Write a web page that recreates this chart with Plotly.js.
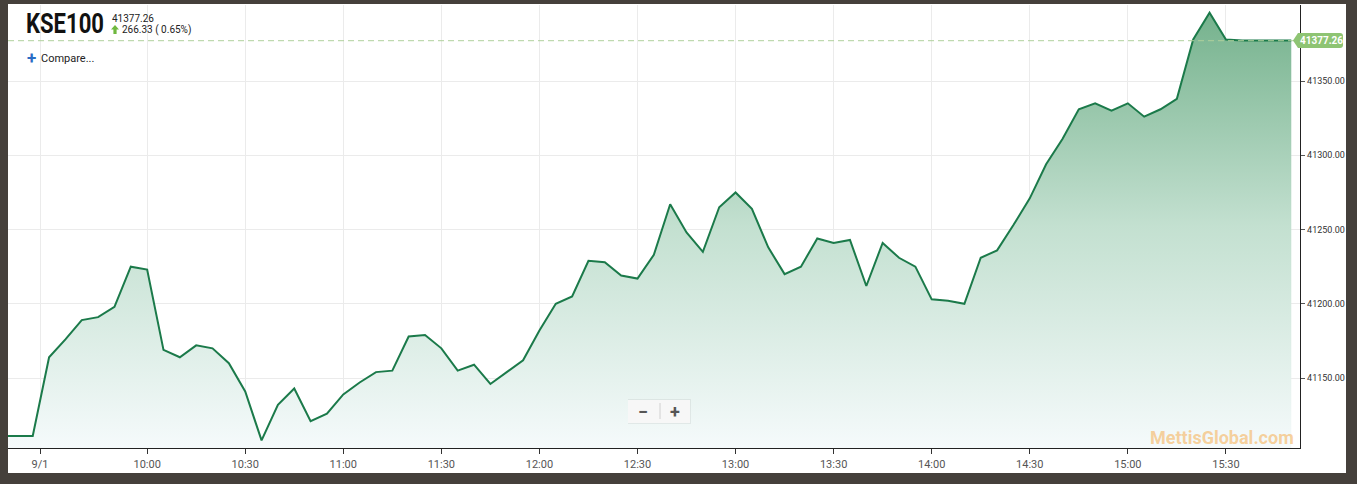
<!DOCTYPE html>
<html>
<head>
<meta charset="utf-8">
<script src="https://cdn.plot.ly/plotly-3.0.1.min.js"></script>
<style>
html,body{margin:0;padding:0;background:#45403b;}
#chart{width:1357px;height:484px;}
</style>
</head>
<body>
<div id="chart"></div>
<script>
// ---- data (5-minute intraday values) ----
const day = '2019-09-01';
const times = ['09:15','09:20','09:25','09:30','09:35','09:40','09:45','09:50','09:55',
  '10:00','10:05','10:10','10:15','10:20','10:25','10:30','10:35','10:40','10:45','10:50','10:55',
  '11:00','11:05','11:10','11:15','11:20','11:25','11:30','11:35','11:40','11:45','11:50','11:55',
  '12:00','12:05','12:10','12:15','12:20','12:25','12:30','12:35','12:40','12:45','12:50','12:55',
  '13:00','13:05','13:10','13:15','13:20','13:25','13:30','13:35','13:40','13:45','13:50','13:55',
  '14:00','14:05','14:10','14:15','14:20','14:25','14:30','14:35','14:40','14:45','14:50','14:55',
  '15:00','15:05','15:10','15:15','15:20','15:25','15:30','15:35','15:40','15:45','15:50'];
const values = [41110.93,41110.93,41110.93,41164,41176,41189,41191,41198,41225,
  41223,41169,41164,41172,41170,41160,41141,41108,41132,41143,41121,41126,
  41139,41147,41154,41155,41178,41179,41170,41155,41159,41146,41154,41162,
  41182,41200,41205,41229,41228,41219,41217,41233,41267,41248,41235,41265,
  41275,41264,41238,41220,41225,41244,41241,41243,41212,41241,41231,41225,
  41203,41202,41200,41231,41236,41253,41271,41294,41311,41331,41335,41330,
  41335,41326,41331,41338,41378,41396,41378,41377.26,41377.26,41377.26,41377.26];
const lastValue = 41377.26;
const change = '266.33';
const changePct = '0.65%';
const symbol = 'KSE100';
const xTickTimes = ['09:27:14','10:00','10:30','11:00','11:30','12:00','12:30','13:00','13:30','14:00','14:30','15:00','15:30'];
const xTickText = ['9/1','10:00','10:30','11:00','11:30','12:00','12:30','13:00','13:30','14:00','14:30','15:00','15:30'];
const yTicks = [41150,41200,41250,41300,41350];

// ---- layout geometry ----
const W = 1357, H = 484;
const L = 8, R = 57, T = 5, B = 36;
const pw = W - L - R, ph = H - T - B;
const yRange = [41102.9, 41401.2];
const px = X => (X - L) / pw;
const py = Y => (H - B - Y) / ph;
const yLastPaper = (lastValue - yRange[0]) / (yRange[1] - yRange[0]);

const x = times.map(t => day + ' ' + t);

const traces = [
  {
    x: x, y: values, type: 'scatter', mode: 'lines',
    line: {color: '#1b7a4a', width: 2},
    fill: 'tozeroy',
    fillgradient: {type: 'vertical', start: yRange[0], stop: yRange[1],
      colorscale: [[0, '#f5fafb'], [0.5, '#c3e0d0'], [1, '#72b08a']]},
    hoverinfo: 'skip', showlegend: false
  }
];

const shapes = [
  // white chart panel
  {type: 'rect', xref: 'paper', yref: 'paper', x0: px(8), x1: px(1346), y0: py(473), y1: py(4),
   fillcolor: '#ffffff', line: {width: 0}, layer: 'below'},
  // last price dashed line
  {type: 'line', xref: 'paper', yref: 'paper', x0: 0, x1: 1, y0: yLastPaper, y1: yLastPaper,
   line: {color: 'rgba(175,208,155,0.8)', width: 1.3, dash: '6px,4px'}, layer: 'above'},
  // last price tag
  {type: 'path', xref: 'paper', yref: 'paper', xsizemode: 'pixel', ysizemode: 'pixel',
   xanchor: 1, yanchor: yLastPaper,
   path: 'M-7,0 L-2,7.5 L40,7.5 Q43,7.5 43,4.5 L43,-4.5 Q43,-7.5 40,-7.5 L-2,-7.5 Z',
   fillcolor: '#8ec473', line: {width: 0}},
  // up arrow
  {type: 'path', xref: 'paper', yref: 'paper', xsizemode: 'pixel', ysizemode: 'pixel',
   xanchor: px(115), yanchor: py(30),
   path: 'M0,5 L4,0.5 L1.6,0.5 L1.6,-4 L-1.6,-4 L-1.6,0.5 L-4,0.5 Z',
   fillcolor: '#6fb83f', line: {width: 0}},
  // zoom buttons box
  {type: 'rect', xref: 'paper', yref: 'paper', x0: px(628), x1: px(691), y0: py(424), y1: py(399),
   fillcolor: 'rgba(0,0,0,0.06)', line: {width: 0}},
  {type: 'rect', xref: 'paper', yref: 'paper', x0: px(628), x1: px(690), y0: py(423), y1: py(400),
   fillcolor: '#f7f7f7', line: {width: 0}},
  {type: 'line', xref: 'paper', yref: 'paper', x0: px(660), x1: px(660), y0: py(419), y1: py(403),
   line: {color: '#d0d0d0', width: 1}}
];

const annotations = [
  {text: symbol, xref: 'paper', yref: 'paper', x: px(25), y: py(24),
   xanchor: 'left', yanchor: 'middle', align: 'left', showarrow: false, borderpad: 0,
   width: 80,
   font: {family: 'Roboto, sans-serif', size: 27, weight: 700, color: '#111'}},
  {text: lastValue.toFixed(2), xref: 'paper', yref: 'paper', x: px(110), y: py(18),
   xanchor: 'left', yanchor: 'middle', showarrow: false,
   font: {family: 'Roboto, sans-serif', size: 10, color: '#222'}},
  {text: change + ' ( ' + changePct + ')', xref: 'paper', yref: 'paper', x: px(120), y: py(30),
   xanchor: 'left', yanchor: 'middle', showarrow: false,
   font: {family: 'Roboto, sans-serif', size: 10, color: '#222'}},
  {text: '<b>+</b>', xref: 'paper', yref: 'paper', x: px(31), y: py(58.5),
   xanchor: 'center', yanchor: 'middle', showarrow: false,
   font: {family: 'Roboto, sans-serif', size: 17, color: '#2b6cc4'}},
  {text: 'Compare...', xref: 'paper', yref: 'paper', x: px(39), y: py(59),
   xanchor: 'left', yanchor: 'middle', showarrow: false,
   font: {family: 'Roboto, sans-serif', size: 11, color: '#222'}},
  {text: '<b>' + lastValue.toFixed(2) + '</b>', xref: 'paper', yref: 'paper', x: px(1321), y: yLastPaper,
   xanchor: 'center', yanchor: 'middle', showarrow: false,
   font: {family: 'Roboto, sans-serif', size: 10, color: '#ffffff'}},
  {text: '<b>−</b>', xref: 'paper', yref: 'paper', x: px(643), y: py(411),
   xanchor: 'center', yanchor: 'middle', showarrow: false,
   font: {family: 'Roboto, sans-serif', size: 18, color: '#555'}},
  {text: '<b>+</b>', xref: 'paper', yref: 'paper', x: px(675), y: py(411),
   xanchor: 'center', yanchor: 'middle', showarrow: false,
   font: {family: 'Roboto, sans-serif', size: 18, color: '#555'}},
  {text: '<b>MettisGlobal.com</b>', xref: 'paper', yref: 'paper', x: px(1296), y: py(437),
   xanchor: 'right', yanchor: 'middle', showarrow: false,
   font: {family: 'Roboto, sans-serif', size: 18, color: 'rgba(246,180,95,0.62)'}}
];

const layout = {
  width: W, height: H,
  margin: {l: L, r: R, t: T, b: B, pad: 0},
  paper_bgcolor: '#45403b',
  plot_bgcolor: 'rgba(0,0,0,0)',
  showlegend: false,
  hovermode: false,
  xaxis: {
    type: 'date',
    range: [day + ' 09:17:26', day + ' 15:52:40'],
    tickmode: 'array',
    tickvals: xTickTimes.map(t => day + ' ' + t),
    ticktext: xTickText,
    showgrid: true, gridcolor: '#ebebeb', gridwidth: 1,
    showline: true, linecolor: '#222', linewidth: 1.3,
    ticks: 'outside', ticklen: 5, tickcolor: '#333', tickwidth: 1,
    tickfont: {family: 'Roboto, sans-serif', size: 11, color: '#555'},
    zeroline: false, fixedrange: true
  },
  yaxis: {
    side: 'right',
    range: yRange,
    tickmode: 'array', tickvals: yTicks,
    tickformat: '.2f',
    showgrid: true, gridcolor: '#ebebeb', gridwidth: 1,
    showline: true, linecolor: '#222', linewidth: 1.3,
    ticks: 'outside', ticklen: 4, tickcolor: '#555',
    tickfont: {family: 'Roboto, sans-serif', size: 9, color: '#333'},
    zeroline: false, fixedrange: true
  },
  shapes: shapes,
  annotations: annotations
};

Plotly.newPlot('chart', traces, layout, {displayModeBar: false, staticPlot: true}).then(function (gd) {
  // condense the symbol title to the reference's narrow width
  gd.querySelectorAll('.annotation-text').forEach(function (t) {
    if (t.textContent === symbol) {
      t.setAttribute('textLength', '78');
      t.setAttribute('lengthAdjust', 'spacingAndGlyphs');
    }
  });
});
</script>
</body>
</html>
